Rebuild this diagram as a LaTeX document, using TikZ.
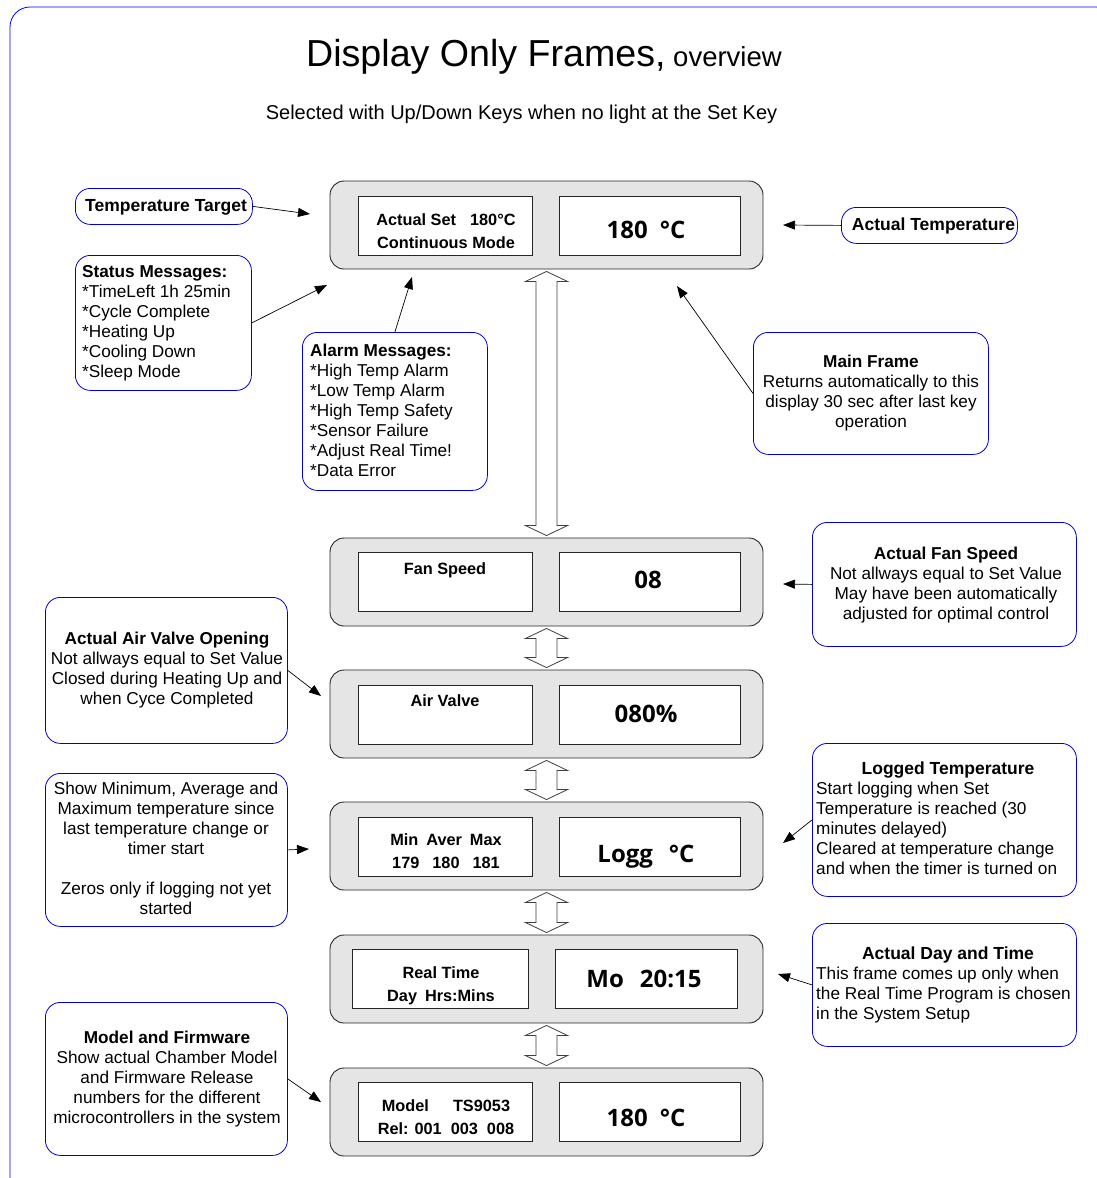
\documentclass[tikz,border=0pt]{standalone}
\usepackage{fontspec}
\setmainfont{Liberation Sans}
\newfontfamily\lcdfont{Open Sans}
\usetikzlibrary{arrows.meta,calc}
\begin{document}
\begin{tikzpicture}[x=1pt,y=-1pt,
 panel/.style={draw=black!85, fill=black!10, rounded corners=14pt, line width=0.9pt, minimum width=433pt, minimum height=88pt, inner sep=0pt},
 lcd/.style={draw=black!85, fill=white, line width=0.9pt, minimum height=59pt, inner sep=0pt},
 callout/.style={draw=blue!85!black, rounded corners=15pt, line width=0.8pt, inner sep=0pt, anchor=north west},
 txt/.style={font=\fontsize{17.2}{20}\selectfont, inner sep=0pt},
 ttl/.style={font=\fontsize{17.5}{20}\selectfont\bfseries, inner sep=0pt},
 ptxt/.style={font=\fontsize{16.3}{23.5}\selectfont\bfseries, inner sep=0pt, align=center},
 big/.style={font=\lcdfont\fontsize{24}{26}\selectfont\bfseries, inner sep=0pt, anchor=base},
 conn/.style={-{Triangle[length=12pt,width=9pt]}, line width=0.7pt},
 dbl/.style={draw=black!75, fill=white, line width=0.8pt}
]
\useasboundingbox (0,0) rectangle (1097,1178);
\begin{scope}
\clip (0,0) rectangle (1097,1178);
\draw[blue, line width=0.8pt, rounded corners=20pt] (10,7) rectangle (1116,1200);
\end{scope}

% titles
\node[anchor=base west, inner sep=0pt] (title) at (306,66) {\fontsize{37.6}{40}\selectfont Display Only Frames,\fontsize{27.5}{30}\selectfont\ overview};
\node[anchor=base, inner sep=0pt, font=\fontsize{20}{24}\selectfont] (sub) at (521.5,119) {Selected with Up/Down Keys when no light at the Set Key};

% panels
\node[panel] (p1) at (546.5,225) {};
\node[panel] (p2) at (546.5,582) {};
\node[panel] (p3) at (546.5,714) {};
\node[panel] (p4) at (546.5,846) {};
\node[panel] (p5) at (546.5,979) {};
\node[panel] (p6) at (546.5,1112) {};

\node[lcd, minimum width=174pt] (l1) at (445,225.5) {};
\node[lcd, minimum width=181pt] (r1) at (649.5,225.5) {};
\node[lcd, minimum width=174pt] (l2) at (445,581.5) {};
\node[lcd, minimum width=181pt] (r2) at (649.5,581.5) {};
\node[lcd, minimum width=174pt] (l3) at (445,714.5) {};
\node[lcd, minimum width=181pt] (r3) at (649.5,714.5) {};
\node[lcd, minimum width=174pt] (l4) at (445,846.5) {};
\node[lcd, minimum width=181pt] (r4) at (649.5,846.5) {};
\node[lcd, minimum width=176pt] (l5) at (440,978.5) {};
\node[lcd, minimum width=182pt] (r5) at (646,978.5) {};
\node[lcd, minimum width=174pt] (l6) at (445,1111.5) {};
\node[lcd, minimum width=181pt] (r6) at (649.5,1111.5) {};

% panel texts
\node[ptxt, anchor=north] (t1) at (446,213) {Actual Set\hspace*{14pt}180°C\\Continuous Mode};
\node[big] (b1) at (646,238) {180\hspace*{12pt}°C};
\node[ptxt, anchor=base] (t2) at (445,574) {Fan Speed};
\node[big] (b2) at (648,588) {08};
\node[ptxt, anchor=base] (t3) at (445,706) {Air Valve};
\node[big] (b3) at (646,722) {080\%};
\node[ptxt, anchor=north] (t4) at (446,833) {Min\hspace*{8pt}Aver\hspace*{8pt}Max\\179\hspace*{13pt}180\hspace*{13pt}181};
\node[big] (b4) at (646,862) {Logg\hspace*{16pt}°C};
\node[ptxt, anchor=north] (t5) at (441,966) {Real Time\\Day\hspace*{8pt}Hrs:Mins};
\node[big] (b5) at (644,987) {Mo\hspace*{16pt}20:15};
\node[ptxt, anchor=north] (t6) at (446,1099) {Model\hspace*{24pt}TS9053\\Rel: 001\hspace*{9pt}003\hspace*{9pt}008};
\node[big] (b6) at (646,1126) {180\hspace*{12pt}°C};

% double arrows
\newcommand\dblarrow[2]{\draw[dbl] ($(#1.south)+(0,2)$) -- ($(#1.south)+(21,12)$) -- ($(#1.south)+(10.5,12)$) -- ($(#2.north)+(10.5,-12)$) -- ($(#2.north)+(21,-12)$) -- ($(#2.north)+(0,-2)$) -- ($(#2.north)+(-21,-12)$) -- ($(#2.north)+(-10.5,-12)$) -- ($(#1.south)+(-10.5,12)$) -- ($(#1.south)+(-21,12)$) -- cycle;}
\dblarrow{p1}{p2}
\dblarrow{p2}{p3}
\dblarrow{p3}{p4}
\dblarrow{p4}{p5}
\dblarrow{p5}{p6}

% callouts
\node[callout, minimum width=177pt, minimum height=36pt] (tt) at (75,188) {};
\node[ttl, anchor=north west] (ttT) at (85,199.5) {Temperature Target};

\node[callout, minimum width=176pt, minimum height=135pt] (sm) at (75,255) {};
\node[txt, anchor=north west, align=left] (smT) at (82,265) {\textbf{Status Messages:}\\*TimeLeft 1h 25min\\*Cycle Complete\\*Heating Up\\*Cooling Down\\*Sleep Mode};

\node[callout, minimum width=185pt, minimum height=158pt] (am) at (302,332) {};
\node[txt, anchor=north west, align=left] (amT) at (310,344) {\textbf{Alarm Messages:}\\*High Temp Alarm\\*Low Temp Alarm\\*High Temp Safety\\*Sensor Failure\\*Adjust Real Time!\\*Data Error};

\node[callout, minimum width=235pt, minimum height=122pt] (mf) at (753,332) {};
\node[txt, anchor=north, align=center] (mfT) at (871,355) {\textbf{Main Frame}\\Returns automatically to this\\display 30 sec after last key\\operation};

\node[callout, minimum width=176pt, minimum height=36pt] (at) at (841,207) {};
\node[ttl, anchor=north] (atT) at (933.5,217.5) {Actual Temperature};

\node[callout, minimum width=264pt, minimum height=124pt] (fs) at (812,522) {};
\node[txt, anchor=north, align=center] (fsT) at (946,547) {\textbf{Actual Fan Speed}\\Not allways equal to Set Value\\May have been automatically\\adjusted for optimal control};

\node[callout, minimum width=242pt, minimum height=146pt] (av) at (45,597) {};
\node[txt, anchor=north, align=center] (avT) at (167,632) {\textbf{Actual Air Valve Opening}\\Not allways equal to Set Value\\Closed during Heating Up and\\when Cyce Completed};

\node[callout, minimum width=242pt, minimum height=153pt] (sh) at (45,773) {};
\node[txt, anchor=north, align=center] (shT) at (166,782) {Show Minimum, Average and\\Maximum temperature since\\last temperature change or\\timer start\\[20pt]Zeros only if logging not yet\\started};

\node[callout, minimum width=264pt, minimum height=153pt] (lg) at (812,743) {};
\node[ttl, anchor=north] (lgT) at (948,762) {Logged Temperature};
\node[txt, anchor=north west, align=left] (lgB) at (816,782) {Start logging when Set\\Temperature is reached (30\\minutes delayed)\\Cleared at temperature change\\and when the timer is turned on};

\node[callout, minimum width=264pt, minimum height=123pt] (dt) at (812,923) {};
\node[ttl, anchor=north] (dtT) at (948,947) {Actual Day and Time};
\node[txt, anchor=north west, align=left] (dtB) at (816,967) {This frame comes up only when\\the Real Time Program is chosen\\in the System Setup};

\node[callout, minimum width=242pt, minimum height=153pt] (mo) at (45,1002) {};
\node[txt, anchor=north, align=center] (moT) at (167,1031) {\textbf{Model and Firmware}\\Show actual Chamber Model\\and Firmware Release\\numbers for the different\\microcontrollers in the system};

% connector end points
\coordinate (ett) at (310,214);
\coordinate (esm) at (327,285);
\coordinate (eam) at (412,277);
\coordinate (emf) at (677,286);
\coordinate (eat) at (783,225);
\coordinate (efs) at (783,584);
\coordinate (eav) at (321,696);
\coordinate (esh) at (309,849);
\coordinate (elg) at (783,843);
\coordinate (edt) at (778,974);
\coordinate (emo) at (321,1102);

\draw[conn] (tt.east) -- (ett);
\draw[conn] (sm.east) -- (esm);
\draw[conn] (am.north) -- (eam);
\draw[conn] (mf.west) -- (emf);
\draw[conn] (at.west) -- (eat);
\draw[conn] (fs.west) -- (efs);
\draw[conn] (av.east) -- (eav);
\draw[conn] (sh.east) -- (esh);
\draw[conn] (lg.west) -- (elg);
\draw[conn] (dt.west) -- (edt);
\draw[conn] (mo.east) -- (emo);
\end{tikzpicture}
\end{document}
